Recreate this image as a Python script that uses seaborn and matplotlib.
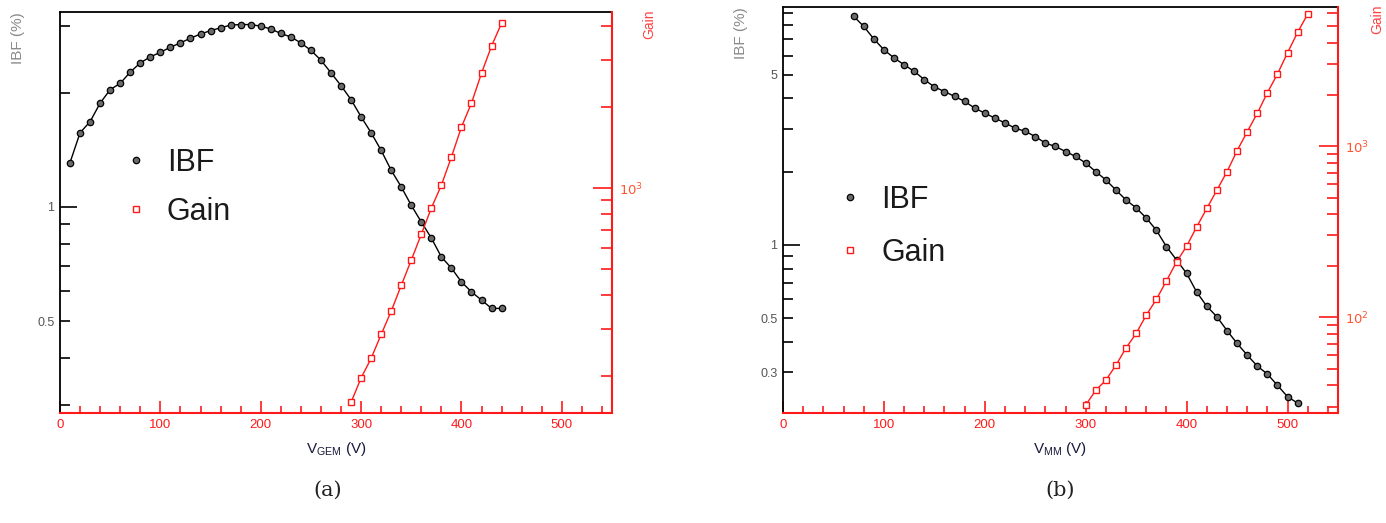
import matplotlib
matplotlib.use("Agg")
import matplotlib.pyplot as plt
import seaborn as sns
import pandas as pd
from matplotlib.ticker import FixedLocator, FixedFormatter
from matplotlib.lines import Line2D

# ---------------- data: panel (a) ----------------
v_gem_ibf = [10, 20, 30, 40, 50, 60, 70, 80, 90, 100, 110, 120, 130, 140, 150,
             160, 170, 180, 190, 200, 210, 220, 230, 240, 250, 260, 270, 280,
             290, 300, 310, 320, 330, 340, 350, 360, 370, 380, 390, 400, 410,
             420, 430, 440]
ibf_a = [1.31, 1.57, 1.68, 1.88, 2.04, 2.12, 2.27, 2.40, 2.49, 2.56, 2.64, 2.71,
         2.79, 2.86, 2.92, 2.97, 3.02, 3.03, 3.03, 3.00, 2.95, 2.87, 2.81, 2.71,
         2.59, 2.44, 2.26, 2.09, 1.92, 1.73, 1.57, 1.41, 1.25, 1.13, 1.01, 0.913,
         0.828, 0.738, 0.690, 0.634, 0.597, 0.568, 0.540, 0.540]
v_gem_gain = [290, 300, 310, 320, 330, 340, 350, 360, 370, 380, 390, 400, 410,
              420, 430, 440]
gain_a = [160, 197, 233, 286, 349, 435, 540, 674, 843, 1026, 1305, 1687, 2070,
          2676, 3374, 4103]

# ---------------- data: panel (b) ----------------
v_mm_ibf = [70, 80, 90, 100, 110, 120, 130, 140, 150, 160, 170, 180, 190, 200,
            210, 220, 230, 240, 250, 260, 270, 280, 290, 300, 310, 320, 330, 340,
            350, 360, 370, 380, 390, 400, 410, 420, 430, 440, 450, 460, 470, 480,
            490, 500, 510]
ibf_b = [8.70, 7.91, 7.02, 6.34, 5.87, 5.50, 5.17, 4.78, 4.46, 4.27, 4.08, 3.89,
         3.65, 3.48, 3.32, 3.17, 3.02, 2.93, 2.79, 2.62, 2.54, 2.42, 2.31, 2.17,
         2.00, 1.85, 1.68, 1.53, 1.42, 1.29, 1.15, 0.984, 0.868, 0.764, 0.64,
         0.56, 0.507, 0.445, 0.394, 0.353, 0.318, 0.295, 0.265, 0.238, 0.224]
v_mm_gain = [300, 310, 320, 330, 340, 350, 360, 370, 380, 390, 400, 410, 420,
             430, 440, 450, 460, 470, 480, 490, 500, 510, 520]
gain_b = [30.6, 37.4, 42.8, 52.4, 66.1, 80.3, 102.7, 126.9, 163, 210, 260, 337,
          432, 553, 708, 939, 1212, 1553, 2050, 2636, 3514, 4621, 5914]

# tick definitions
x_major = [0, 100, 200, 300, 400, 500]
x_minor = [20, 40, 60, 80, 120, 140, 160, 180, 220, 240, 260, 280, 320, 340,
           360, 380, 420, 440, 460, 480, 520, 540]

sns.set_theme(style="ticks")
plt.rcParams["font.family"] = ["Liberation Sans", "DejaVu Sans"]
plt.rcParams["mathtext.fontset"] = "dejavusans"

RED = "#ff1a1a"
fig = plt.figure(figsize=(13.86, 5.23), dpi=100)

def panel(rect, vi, ibf, vg, gain, ibf_lim, gain_lim,
          ibf_major, ibf_minor, ibf_minor_labels,
          gain_major, gain_major_labels, gain_minor, xlabel, leg_anchor,
          leg_spacing, gain_label_x):
    ax = fig.add_axes(rect)
    df_i = pd.DataFrame({"V": vi, "IBF": ibf})
    sns.lineplot(data=df_i, x="V", y="IBF", ax=ax, color="black", linewidth=1.0,
                 marker="o", markersize=4.6, markerfacecolor="#6a6a6a",
                 markeredgecolor="black", markeredgewidth=0.9)
    ax.set_yscale("log")
    ax.set_xlim(0, 550)
    ax.set_ylim(*ibf_lim)
    ax.xaxis.set_major_locator(FixedLocator(x_major))
    ax.xaxis.set_minor_locator(FixedLocator(x_minor))
    ax.yaxis.set_major_locator(FixedLocator(ibf_major))
    ax.yaxis.set_major_formatter(FixedFormatter([("%g" % t) for t in ibf_major]))
    ax.yaxis.set_minor_locator(FixedLocator(ibf_minor))
    ax.yaxis.set_minor_formatter(FixedFormatter(ibf_minor_labels))
    ax.tick_params(axis="x", which="both", direction="in", colors=RED,
                   labelsize=9.5, width=1.2, pad=4)
    ax.tick_params(axis="x", which="major", length=9)
    ax.tick_params(axis="x", which="minor", length=5)
    ax.tick_params(axis="y", which="both", direction="in", color="black",
                   labelcolor="#555555", labelsize=9, width=1.2, pad=4)
    ax.tick_params(axis="y", which="major", length=12)
    ax.tick_params(axis="y", which="minor", length=7)
    ax.spines["bottom"].set_color(RED)
    ax.spines["bottom"].set_linewidth(1.5)
    ax.spines["left"].set_color("black")
    ax.spines["left"].set_linewidth(1.3)
    ax.spines["top"].set_color("black")
    ax.spines["top"].set_linewidth(1.3)
    ax.spines["right"].set_visible(False)
    ax.set_xlabel(xlabel, fontsize=11, color="#1a1a3a")
    ax.set_ylabel("IBF (%)", loc="top", fontsize=11, color="#8a8a8a")
    ax.yaxis.set_label_coords(-0.063, 1.0)
    ax.xaxis.set_label_coords(0.5, -0.067)
    ax.grid(False)

    ax2 = ax.twinx()
    df_g = pd.DataFrame({"V": vg, "Gain": gain})
    sns.lineplot(data=df_g, x="V", y="Gain", ax=ax2, color=RED, linewidth=1.0,
                 marker="s", markersize=4.6, markerfacecolor="white",
                 markeredgecolor=RED, markeredgewidth=1.0)
    ax2.set_yscale("log")
    ax2.set_ylim(*gain_lim)
    ax2.set_xlim(0, 550)
    ax2.yaxis.set_major_locator(FixedLocator(gain_major))
    ax2.yaxis.set_major_formatter(FixedFormatter(gain_major_labels))
    ax2.yaxis.set_minor_locator(FixedLocator(gain_minor))
    ax2.yaxis.set_minor_formatter(FixedFormatter([""] * len(gain_minor)))
    ax2.tick_params(axis="y", which="both", direction="in", colors=RED,
                    labelcolor="#ff5533", labelsize=9.5, width=1.2, pad=5)
    ax2.tick_params(axis="y", which="major", length=14)
    ax2.tick_params(axis="y", which="minor", length=8)
    for s in ["left", "top", "bottom"]:
        ax2.spines[s].set_visible(False)
    ax2.spines["right"].set_color(RED)
    ax2.spines["right"].set_linewidth(1.5)
    ax2.set_ylabel("Gain", loc="top", fontsize=10, color="#ff4040")
    ax2.yaxis.set_label_coords(gain_label_x, 1.005)
    ax2.grid(False)

    handles = [Line2D([], [], linestyle="none", marker="o", markersize=4.6,
                      markerfacecolor="#6a6a6a", markeredgecolor="black",
                      markeredgewidth=0.9),
               Line2D([], [], linestyle="none", marker="s", markersize=4.6,
                      markerfacecolor="white", markeredgecolor=RED,
                      markeredgewidth=1.0)]
    ax2.legend(handles, ["IBF", "Gain"], loc="upper left",
               bbox_to_anchor=leg_anchor, frameon=False, fontsize=22,
               handlelength=0.8, handletextpad=0.6, labelspacing=leg_spacing,
               borderpad=0, labelcolor="#1a1a1a")
    return ax, ax2

panel([60 / 1386, 1 - 413 / 523, 552 / 1386, 401 / 523],
      v_gem_ibf, ibf_a, v_gem_gain, gain_a,
      (0.286, 3.27), (146, 4513),
      [1], [0.3, 0.4, 0.5, 0.6, 0.7, 0.8, 0.9, 2, 3],
      ["", "", "0.5", "", "", "", "", "", ""],
      [1000], [r"$10^{3}$"],
      [200, 300, 400, 500, 600, 700, 800, 900, 2000, 3000, 4000],
      r"$\mathregular{V_{GEM}}$ (V)", (0.088, 0.70), 0.62, 1.054)

panel([783 / 1386, 1 - 413 / 523, 555 / 1386, 406 / 523],
      v_mm_ibf, ibf_b, v_mm_gain, gain_b,
      (0.204, 9.5), (27.5, 6500),
      [1], [0.3, 0.4, 0.5, 0.6, 0.7, 0.8, 0.9, 2, 3, 4, 5, 6, 7, 8, 9],
      ["0.3", "", "0.5", "", "", "", "", "", "", "", "5", "", "", "", ""],
      [100, 1000], [r"$10^{2}$", r"$10^{3}$"],
      [30, 40, 50, 60, 70, 80, 90, 200, 300, 400, 500, 600, 700, 800, 900,
       2000, 3000, 4000, 5000, 6000],
      r"$\mathregular{V_{MM}}$ (V)", (0.072, 0.60), 0.75, 1.058)

fig.text(328 / 1386, 1 - 490 / 523, "(a)", ha="center", va="center",
         fontsize=15, family="DejaVu Serif", color="#222222")
fig.text(1060 / 1386, 1 - 490 / 523, "(b)", ha="center", va="center",
         fontsize=15, family="DejaVu Serif", color="#222222")

fig.savefig("out.png", dpi=100)
